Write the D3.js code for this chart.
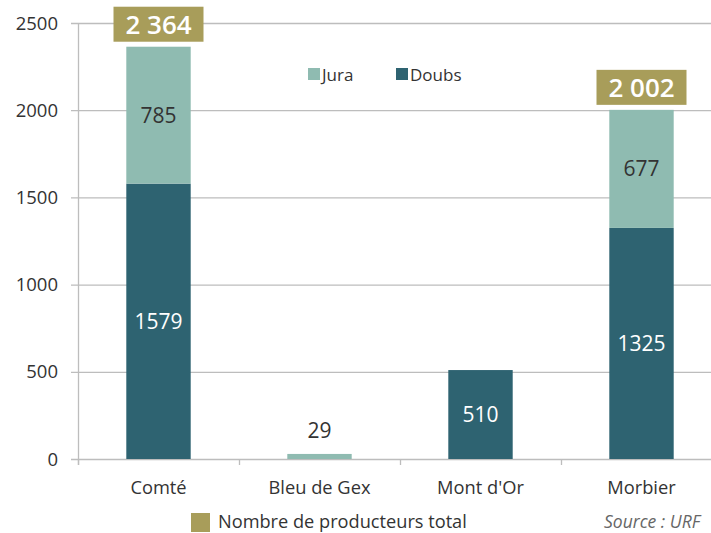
<!DOCTYPE html>
<html>
<head>
<meta charset="utf-8">
<script src="https://cdn.jsdelivr.net/npm/d3@7"></script>
<style>
  body { margin: 0; background: #fff; }
  svg { display: block; font-family: "Open Sans", sans-serif; }
</style>
</head>
<body>
<svg width="711" height="533"></svg>
<script>
// chart data
const categories = ["Comté", "Bleu de Gex", "Mont d'Or", "Morbier"];
const jura = [785, 29, 0, 677];
const doubs = [1579, 0, 510, 1325];
const totals = [2364, null, null, 2002];
const yTicks = [0, 500, 1000, 1500, 2000, 2500];

const colJura = "#8fbbb1";
const colDoubs = "#2e6371";
const colTotal = "#a89d5a";

const svg = d3.select("svg");
const plotLeft = 78, plotRight = 722, plotTop = 23, plotBottom = 459;

const x = d3.scaleBand().domain(categories).range([plotLeft, plotRight]).paddingInner(0.6).paddingOuter(0.3);
const y = d3.scaleLinear().domain([0, 2500]).range([plotBottom, plotTop]);

// gridlines
svg.append("g")
    .selectAll("line")
    .data(yTicks)
    .join("line")
    .attr("x1", plotLeft - 7)
    .attr("x2", 711)
    .attr("y1", d => y(d) + 0.5)
    .attr("y2", d => y(d) + 0.5)
    .attr("stroke", "#bdbdbd")
    .attr("stroke-width", 1.3);

// y axis line
svg.append("line")
    .attr("x1", plotLeft + 0.5).attr("x2", plotLeft + 0.5)
    .attr("y1", plotTop).attr("y2", plotBottom + 6)
    .attr("stroke", "#bdbdbd").attr("stroke-width", 1.3);

// category ticks
const step = x.step();
svg.append("g")
    .selectAll("line")
    .data(d3.range(categories.length + 1))
    .join("line")
    .attr("x1", i => plotLeft + i * step + 0.5)
    .attr("x2", i => plotLeft + i * step + 0.5)
    .attr("y1", plotBottom)
    .attr("y2", plotBottom + 6)
    .attr("stroke", "#bdbdbd").attr("stroke-width", 1.3);

// y tick labels
svg.append("g")
    .selectAll("text")
    .data(yTicks)
    .join("text")
    .attr("x", 58)
    .attr("y", d => y(d) + 6.5)
    .attr("text-anchor", "end")
    .attr("font-size", 18.5)
    .attr("fill", "#333")
    .text(d => d);

const barW = x.bandwidth();
const cx = c => x(c) + barW / 2;

// doubs bars
svg.append("g")
    .selectAll("rect")
    .data(categories.map((c, i) => ({ c, v: doubs[i] })).filter(d => d.v > 0))
    .join("rect")
    .attr("x", d => x(d.c))
    .attr("width", barW)
    .attr("y", d => y(d.v))
    .attr("height", d => y(0) - y(d.v))
    .attr("fill", colDoubs);

// jura bars stacked on doubs
svg.append("g")
    .selectAll("rect")
    .data(categories.map((c, i) => ({ c, v: jura[i], base: doubs[i] })).filter(d => d.v > 0))
    .join("rect")
    .attr("x", d => x(d.c))
    .attr("width", barW)
    .attr("y", d => y(d.base + d.v))
    .attr("height", d => y(d.base) - y(d.base + d.v))
    .attr("fill", colJura);

// value labels
const labels = [];
categories.forEach((c, i) => {
    if (doubs[i] > 0) labels.push({ c, t: doubs[i], yv: doubs[i] / 2, fill: "#fff", dy: 7.5 });
    if (jura[i] > 0) {
        if (jura[i] < 100) labels.push({ c, t: jura[i], yv: doubs[i] + jura[i], fill: "#333", dy: -16 });
        else labels.push({ c, t: jura[i], yv: doubs[i] + jura[i] / 2, fill: "#333", dy: 7.5 });
    }
});
svg.append("g")
    .selectAll("text")
    .data(labels)
    .join("text")
    .attr("x", d => cx(d.c))
    .attr("y", d => y(d.yv) + d.dy)
    .attr("text-anchor", "middle")
    .attr("font-size", 21)
    .attr("fill", d => d.fill)
    .text(d => d.t);

// total boxes
const fmt = v => d3.format(",")(v).replace(",", " ");
const tot = svg.append("g")
    .selectAll("g")
    .data(categories.map((c, i) => ({ c, v: totals[i] })).filter(d => d.v != null))
    .join("g")
    .attr("transform", d => `translate(${cx(d.c)},${y(d.v) - 5})`);
tot.append("rect")
    .attr("x", -45).attr("y", -35)
    .attr("width", 90).attr("height", 35)
    .attr("fill", colTotal);
tot.append("text")
    .attr("y", -8)
    .attr("text-anchor", "middle")
    .attr("font-size", 26)
    .attr("font-weight", "600")
    .attr("fill", "#fff")
    .text(d => fmt(d.v));

// category labels
svg.append("g")
    .selectAll("text")
    .data(categories)
    .join("text")
    .attr("x", d => cx(d))
    .attr("y", 494)
    .attr("text-anchor", "middle")
    .attr("font-size", 18.3)
    .attr("fill", "#333")
    .text(d => d);

// top legend
const legend = [{ name: "Jura", col: colJura, x: 308 }, { name: "Doubs", col: colDoubs, x: 396 }];
const lg = svg.append("g").selectAll("g").data(legend).join("g")
    .attr("transform", d => `translate(${d.x},68)`);
lg.append("rect").attr("width", 12).attr("height", 12).attr("fill", d => d.col);
lg.append("text").attr("x", 14).attr("y", 12.5).attr("font-size", 17).attr("fill", "#333").text(d => d.name);

// bottom legend
svg.append("rect").attr("x", 191).attr("y", 513).attr("width", 19).attr("height", 19).attr("fill", colTotal);
svg.append("text").attr("x", 218).attr("y", 528).attr("font-size", 18.2).attr("fill", "#333")
    .text("Nombre de producteurs total");
svg.append("text").attr("x", 604).attr("y", 528).attr("font-size", 17.5).attr("font-style", "italic")
    .attr("fill", "#666").text("Source : URF");
</script>
</body>
</html>
